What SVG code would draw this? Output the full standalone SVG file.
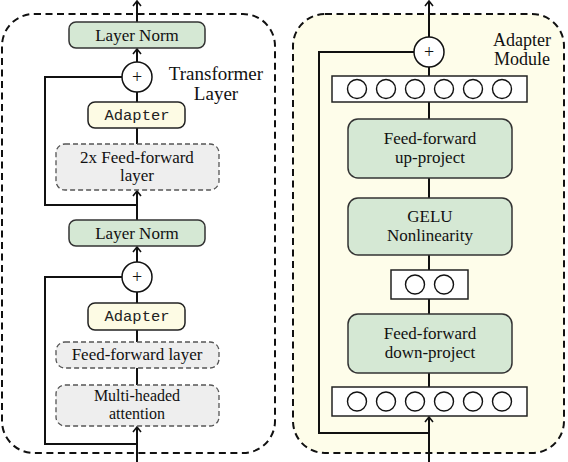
<svg xmlns="http://www.w3.org/2000/svg" width="568" height="462" viewBox="0 0 568 462">
<style>
.panel{fill:none;stroke:#111;stroke-width:2;stroke-dasharray:7 4.5}
.green{fill:#d5e8d4;stroke:#333;stroke-width:1.5}
.adapt{fill:#fdfbe4;stroke:#222;stroke-width:1.5}
.gray{fill:#eeeeee;stroke:#555;stroke-width:1.3;stroke-dasharray:5 3}
.vec{fill:#fff;stroke:#222;stroke-width:1.5}
.unit{fill:#fff;stroke:#111;stroke-width:1.4}
.plus{fill:#fff;stroke:#111;stroke-width:1.5}
.t{font-family:"Liberation Serif","Times New Roman",serif;font-size:17px;fill:#111;text-anchor:middle}
.big{font-size:19px}
.pl{font-size:18px}
.mono{font-family:"Liberation Mono","Courier New",monospace;font-size:15.5px;fill:#222;text-anchor:middle}
.c{fill:none;stroke:#111;stroke-width:2}
.a{marker-end:url(#arr)}
</style>
<defs>
<marker id="arr" viewBox="0 0 10 10" refX="9" refY="5" markerWidth="10" markerHeight="10" markerUnits="userSpaceOnUse" orient="auto">
<path d="M4,1 L9,5 L4,9" fill="none" stroke="#111" stroke-width="1.6"/>
</marker>
</defs>
<rect width="568" height="462" fill="#fff"/>

<g id="transformer-panel">
<rect class="panel" x="2" y="14" width="273" height="439" rx="32"/>
<text class="t big" x="216" y="80">Transformer</text>
<text class="t big" x="216" y="100">Layer</text>
</g>
<g id="adapter-panel">
<rect class="panel" x="293" y="14" width="271" height="439" rx="32" style="fill:#fefdea"/>
<text class="t" x="522" y="46" style="font-size:18px">Adapter</text>
<text class="t" x="522" y="65" style="font-size:18px">Module</text>
</g>

<g id="connectors">
<line class="c a" x1="137" y1="22" x2="137" y2="1"/>
<line class="c a" x1="137" y1="62" x2="137" y2="49"/>
<line class="c" x1="137" y1="102" x2="137" y2="92"/>
<line class="c" x1="137" y1="144" x2="137" y2="128"/>
<line class="c a" x1="137" y1="220" x2="137" y2="191"/>
<path class="c" d="M137,205 H45 V77 H122"/>
<line class="c a" x1="137" y1="262" x2="137" y2="247"/>
<line class="c" x1="137" y1="303" x2="137" y2="292"/>
<line class="c" x1="137" y1="342" x2="137" y2="330"/>
<line class="c" x1="137" y1="385" x2="137" y2="368"/>
<line class="c a" x1="137" y1="462" x2="137" y2="427"/>
<path class="c" d="M137,444 H45 V277 H122"/>

<line class="c a" x1="429" y1="37" x2="429" y2="1"/>
<line class="c" x1="429" y1="76" x2="429" y2="67"/>
<line class="c" x1="429" y1="119" x2="429" y2="102"/>
<line class="c" x1="429" y1="198" x2="429" y2="178"/>
<line class="c" x1="429" y1="270" x2="429" y2="255"/>
<line class="c" x1="429" y1="314" x2="429" y2="299"/>
<line class="c" x1="429" y1="387" x2="429" y2="373"/>
<line class="c a" x1="429" y1="462" x2="429" y2="417"/>
<path class="c" d="M429,433 H319 V52 H414"/>
</g>

<g id="layernorm-top">
<rect class="green" x="69" y="22" width="136" height="26" rx="7"/>
<text class="t" x="137" y="41">Layer Norm</text>
</g>
<g id="add-top">
<circle class="plus" cx="137" cy="77" r="15"/>
<text class="t pl" x="137" y="83">+</text>
</g>
<g id="adapter-top">
<rect class="adapt" x="88" y="102" width="97" height="26" rx="7"/>
<text class="mono" x="137" y="120">Adapter</text>
</g>
<g id="ff2x">
<rect class="gray" x="56" y="144" width="163" height="46" rx="9"/>
<text class="t" x="137" y="163">2x Feed-forward</text>
<text class="t" x="137" y="181">layer</text>
</g>
<g id="layernorm-bottom">
<rect class="green" x="69" y="220" width="136" height="26" rx="7"/>
<text class="t" x="137" y="239">Layer Norm</text>
</g>
<g id="add-bottom">
<circle class="plus" cx="137" cy="277" r="15"/>
<text class="t pl" x="137" y="283">+</text>
</g>
<g id="adapter-bottom">
<rect class="adapt" x="88" y="303" width="97" height="27" rx="7"/>
<text class="mono" x="137" y="321">Adapter</text>
</g>
<g id="ff-layer">
<rect class="gray" x="56" y="342" width="163" height="26" rx="9"/>
<text class="t" x="137" y="360">Feed-forward layer</text>
</g>
<g id="mha">
<rect class="gray" x="56" y="385" width="163" height="41" rx="9"/>
<text class="t" x="137" y="401" style="font-size:16px">Multi-headed</text>
<text class="t" x="137" y="419" style="font-size:16px">attention</text>
</g>

<g id="add-adapter">
<circle class="plus" cx="429" cy="52" r="15"/>
<text class="t pl" x="429" y="58">+</text>
</g>
<g id="vec-out">
<rect class="vec" x="332" y="76" width="195" height="26"/>
<circle class="unit" cx="357" cy="89" r="9.5"/>
<circle class="unit" cx="386" cy="89" r="9.5"/>
<circle class="unit" cx="415" cy="89" r="9.5"/>
<circle class="unit" cx="444" cy="89" r="9.5"/>
<circle class="unit" cx="473" cy="89" r="9.5"/>
<circle class="unit" cx="502" cy="89" r="9.5"/>
</g>
<g id="ff-up">
<rect class="green" x="348" y="119" width="164" height="59" rx="10"/>
<text class="t" x="430" y="144">Feed-forward</text>
<text class="t" x="430" y="163">up-project</text>
</g>
<g id="gelu">
<rect class="green" x="348" y="198" width="164" height="57" rx="10"/>
<text class="t" x="430" y="222">GELU</text>
<text class="t" x="430" y="241">Nonlinearity</text>
</g>
<g id="vec-mid">
<rect class="vec" x="391" y="270" width="77" height="29"/>
<circle class="unit" cx="415" cy="284.5" r="9.5"/>
<circle class="unit" cx="444" cy="284.5" r="9.5"/>
</g>
<g id="ff-down">
<rect class="green" x="348" y="314" width="164" height="59" rx="10"/>
<text class="t" x="430" y="339">Feed-forward</text>
<text class="t" x="430" y="358">down-project</text>
</g>
<g id="vec-in">
<rect class="vec" x="332" y="387" width="195" height="29"/>
<circle class="unit" cx="357" cy="401.5" r="9.5"/>
<circle class="unit" cx="386" cy="401.5" r="9.5"/>
<circle class="unit" cx="415" cy="401.5" r="9.5"/>
<circle class="unit" cx="444" cy="401.5" r="9.5"/>
<circle class="unit" cx="473" cy="401.5" r="9.5"/>
<circle class="unit" cx="502" cy="401.5" r="9.5"/>
</g>
</svg>
